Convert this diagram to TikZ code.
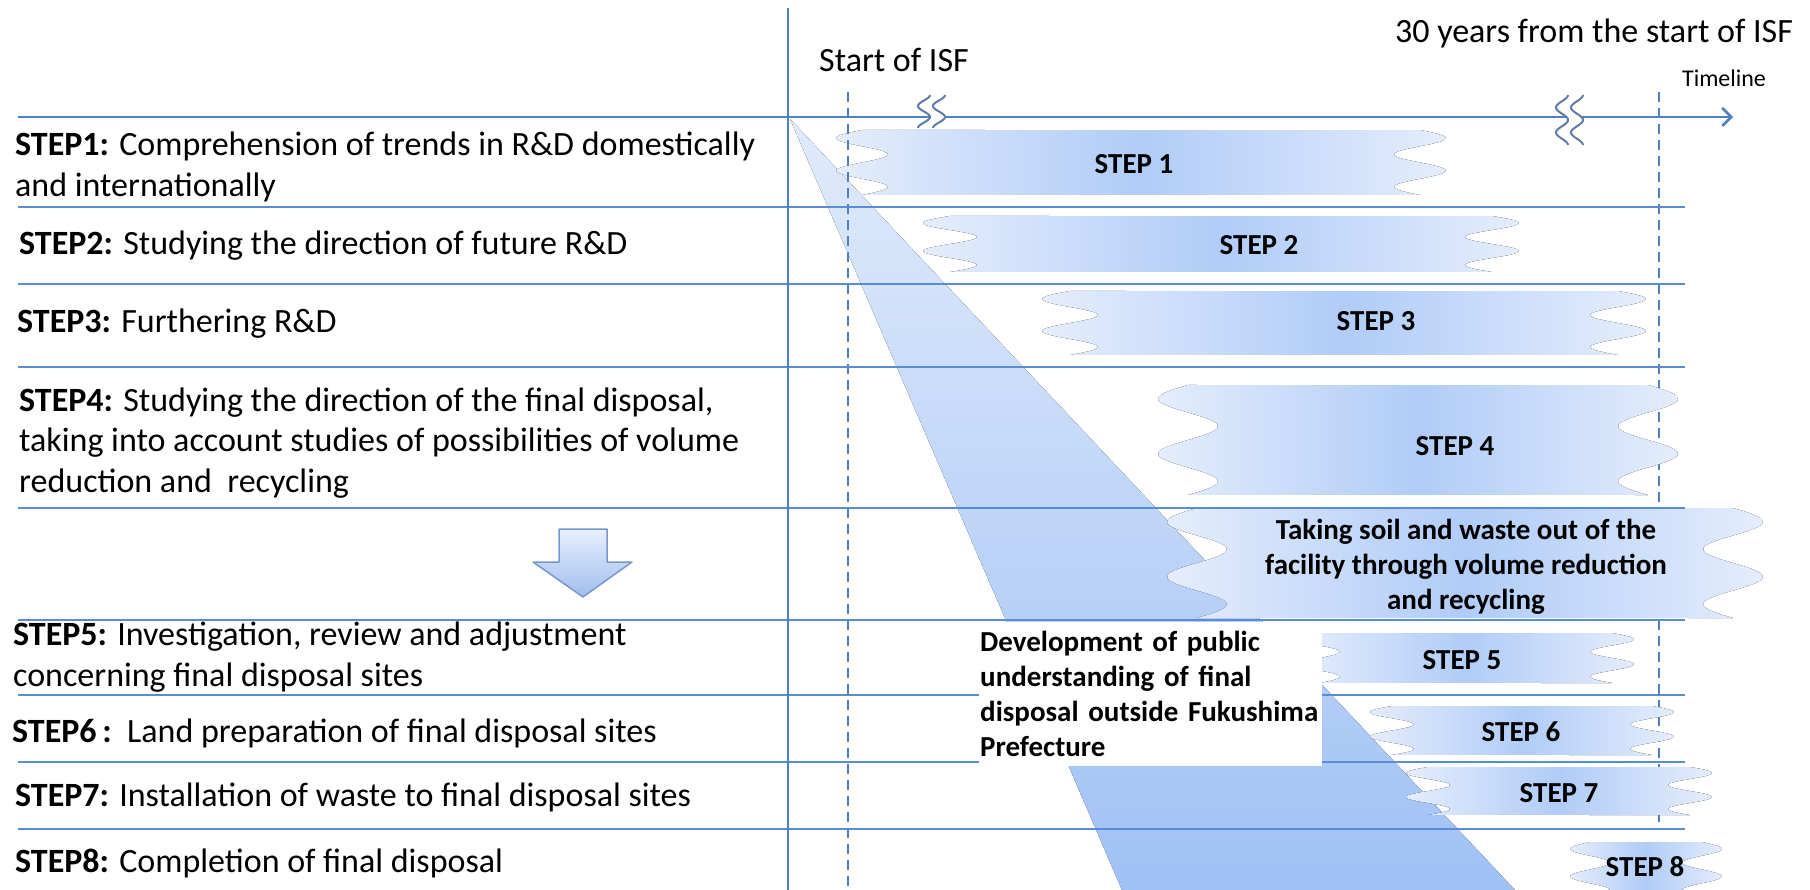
\documentclass[tikz,border=0pt]{standalone}
\usepackage{fontspec}
\setmainfont{Carlito}
\usepackage{tikz}
\usetikzlibrary{arrows.meta, positioning}
\usepackage{xcolor}

\definecolor{axisblue}{RGB}{79,129,189}
\definecolor{rowblue}{RGB}{90,140,212}
\definecolor{bandedge}{RGB}{228,237,252}
\definecolor{bandmid}{RGB}{176,204,247}
\definecolor{wedgetop}{RGB}{224,235,251}
\definecolor{wedgebot}{RGB}{160,193,245}
\definecolor{markgray}{RGB}{95,125,165}
\definecolor{arrowtop}{RGB}{230,239,253}
\definecolor{arrowbot}{RGB}{160,190,238}
\definecolor{arrowedge}{RGB}{120,152,205}

\begin{document}
\begin{tikzpicture}[x=1pt, y=-1pt]
    \tikzstyle{steptext} = [anchor=west, align=left, inner sep=0pt, font=\fontsize{34}{40.5}\selectfont];
    \tikzstyle{toptext} = [anchor=base, inner sep=0pt, font=\fontsize{34}{40}\selectfont];
    \tikzstyle{bandtext} = [inner sep=0pt, align=center, font=\bfseries\fontsize{29}{35}\selectfont];
    \tikzstyle{band} = [left color=bandedge, right color=bandedge, middle color=bandmid];
    \tikzstyle{rowline} = [draw=rowblue, line width=2.5pt];
    \tikzstyle{isfline} = [draw=axisblue, line width=2pt, dash pattern=on 10pt off 6pt];
    \tikzstyle{lefttear} = [domain=0:1, samples=40, smooth];
    \tikzstyle{righttear} = [domain=1:0, samples=40, smooth];
    \tikzstyle{breakmark} = [draw=markgray, line width=2pt, domain=0:1, samples=40, smooth];

    \useasboundingbox (0,0) rectangle (1810,890);
    \fill[white] (0,0) rectangle (1810,890);

    % light wedge under everything
    \coordinate (apex) at (790,119);
    \coordinate (wedgeL) at (1122,890);
    \coordinate (wedgeR) at (1515,890);
    \fill[top color=wedgetop, bottom color=wedgebot] (apex) -- (wedgeR) -- (wedgeL) -- cycle;

    % 30 years line
    \coordinate (end0) at (1659,92);
    \coordinate (end1) at (1659,829);
    \draw[isfline] (end0) -- (end1);

    % bands
    \fill[band] plot[lefttear] ({862-26*sin(720*\x)},{130+65*\x}) -- plot[righttear] ({1420+26*sin(720*\x)},{130+65*\x}) -- cycle;
    \fill[band] plot[lefttear] ({950-27*sin(720*\x)},{216+56*\x}) -- plot[righttear] ({1492+27*sin(720*\x)},{216+56*\x}) -- cycle;
    \fill[band] plot[lefttear] ({1070-28*sin(720*\x)},{291+64*\x}) -- plot[righttear] ({1618+28*sin(720*\x)},{291+64*\x}) -- cycle;
    \fill[band] plot[lefttear] ({1188-30*sin(720*\x)},{385+110*\x}) -- plot[righttear] ({1648+30*sin(720*\x)},{385+110*\x}) -- cycle;
    \fill[band] plot[lefttear] ({1197-30*sin(720*\x)},{508+110*\x}) -- plot[righttear] ({1733+30*sin(720*\x)},{508+110*\x}) -- cycle;
    \fill[band] plot[lefttear] ({1320-20*sin(720*\x)},{633+50*\x}) -- plot[righttear] ({1612+22*sin(720*\x)},{633+50*\x}) -- cycle;
    \fill[band] plot[lefttear] ({1392-22*sin(720*\x)},{706+49*\x}) -- plot[righttear] ({1652+22*sin(720*\x)},{706+49*\x}) -- cycle;
    \fill[band] plot[lefttear] ({1428-22*sin(720*\x)},{767+48*\x}) -- plot[righttear] ({1690+22*sin(720*\x)},{767+48*\x}) -- cycle;
    \fill[band] plot[lefttear] ({1590-20*sin(720*\x)},{842+55*\x}) -- plot[righttear] ({1702+20*sin(720*\x)},{842+55*\x}) -- cycle;

    % start of ISF line
    \coordinate (isf0) at (848,92);
    \coordinate (isf1) at (848,890);
    \draw[isfline] (isf0) -- (isf1);

    % rows
    \draw[rowline]
        (18,207) -- (1685,207)
        (18,284) -- (1685,284)
        (18,367) -- (1685,367)
        (18,508) -- (1685,508)
        (18,620) -- (1685,620)
        (18,695) -- (1685,695)
        (18,762) -- (1685,762)
        (18,829) -- (1685,829)
    ;

    % timeline
    \coordinate (tl0) at (18,117);
    \coordinate (tl1) at (1733,117);
    \draw[axisblue, line width=2.5pt, -{Straight Barb[length=9pt, width=18pt]}] (tl0) -- (tl1);
    \coordinate (axis0) at (788,8);
    \coordinate (axis1) at (788,890);
    \draw[axisblue, line width=2.5pt] (axis0) -- (axis1);

    % breaks on the timeline
    \fill[white] (930,112) rectangle (945,123);
    \draw[breakmark] plot ({924+6*cos(540*\x)},{95+33*\x});
    \draw[breakmark] plot ({939+6*cos(540*\x)},{95+33*\x});
    \fill[white] (1566,112) rectangle (1581,123);
    \draw[breakmark] plot ({1562+6*cos(720*\x)},{95+50*\x});
    \draw[breakmark] plot ({1577+6*cos(720*\x)},{95+50*\x});

    % public understanding box
    \node[fill=white, anchor=north west, minimum width=343pt, minimum height=144pt, text width=341pt, inner xsep=1pt, align=left, font=\bfseries\fontsize{29}{35}\selectfont] (pub) at (979,622)
        {Development of public\\understanding of final\\disposal outside Fukushima\\Prefecture};

    % band labels
    \node[bandtext] (b1) at (1134,164) {STEP 1};
    \node[bandtext] (b2) at (1259,245) {STEP 2};
    \node[bandtext] (b3) at (1376,321) {STEP 3};
    \node[bandtext] (b4) at (1455,446) {STEP 4};
    \node[bandtext] (bout) at (1466,567) {Taking soil and waste out of the\\facility through volume reduction\\and recycling};
    \node[bandtext] (b5) at (1462,660) {STEP 5};
    \node[bandtext] (b6) at (1521,732) {STEP 6};
    \node[bandtext] (b7) at (1559,793) {STEP 7};
    \node[bandtext] (b8) at (1645,867) {STEP 8};

    % top labels
    \node[toptext] (start) at (894,72) {Start of ISF};
    \node[toptext] (thirty) at (1594,43) {30 years from the start of ISF};
    \node[anchor=base, inner sep=0pt, font=\fontsize{24}{28}\selectfont] (tline) at (1724,87) {Timeline};

    % step descriptions
    \node[steptext] (s1) at (15,167) {\textbf{STEP1:} Comprehension of trends in R\&D domestically\\and internationally};
    \node[steptext] (s2) at (19,246) {\textbf{STEP2:} Studying the direction of future R\&D};
    \node[steptext] (s3) at (17,324) {\textbf{STEP3:} Furthering R\&D};
    \node[steptext] (s4) at (19,443) {\textbf{STEP4:} Studying the direction of the final disposal,\\taking into account studies of possibilities of volume\\reduction and\ \ recycling};
    \node[steptext] (s5) at (13,657) {\textbf{STEP5:} Investigation, review and adjustment\\concerning final disposal sites};
    \node[steptext] (s6) at (12,733) {\textbf{STEP6\,:}\ \ Land preparation of final disposal sites};
    \node[steptext] (s7) at (15,797) {\textbf{STEP7:} Installation of waste to final disposal sites};
    \node[steptext] (s8) at (15,863) {\textbf{STEP8:} Completion of final disposal};

    % down arrow between the phases
    \draw[draw=arrowedge, line width=1.5pt, line join=round, top color=arrowtop, bottom color=arrowbot]
        (559,529) -- (607,529) -- (607,562) -- (632,562) -- (583,597) -- (533,562) -- (559,562) -- cycle;
\end{tikzpicture}
\end{document}
